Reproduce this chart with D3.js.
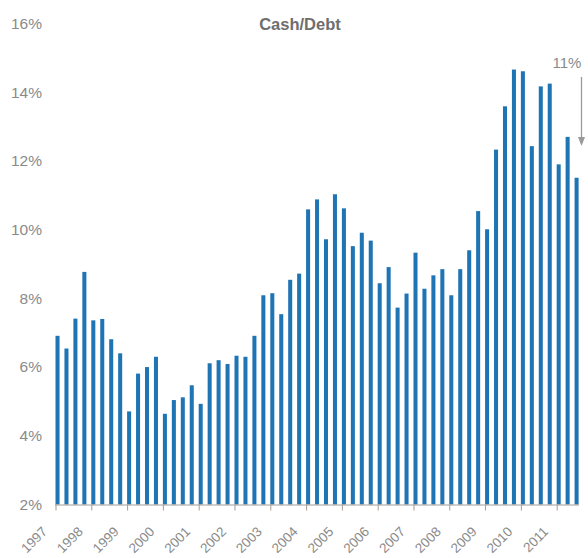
<!DOCTYPE html>
<html>
<head>
<meta charset="utf-8">
<script src="https://cdn.jsdelivr.net/npm/d3@7"></script>
<style>
  html, body { margin: 0; padding: 0; background: #fff; }
  svg { display: block; font-family: "Liberation Sans", Arial, sans-serif; }
</style>
</head>
<body>
<svg id="chart" width="588" height="558"></svg>
<script>
// Quarterly cash-to-debt ratio (%), 1997 Q1 through 2011 Q3
const years = [1997, 1998, 1999, 2000, 2001, 2002, 2003, 2004, 2005, 2006, 2007, 2008, 2009, 2010, 2011];
const cashDebt = [
  6.91, 6.54, 7.41, 8.77,
  7.36, 7.40, 6.81, 6.40,
  4.71, 5.81, 6.00, 6.30,
  4.64, 5.04, 5.12, 5.47,
  4.93, 6.11, 6.20, 6.09,
  6.33, 6.30, 6.91, 8.09,
  8.15, 7.54, 8.54, 8.72,
  10.59, 10.88, 9.72, 11.03,
  10.62, 9.52, 9.91, 9.68,
  8.44, 8.91, 7.73, 8.14,
  9.33, 8.28, 8.67, 8.85,
  8.09, 8.85, 9.40, 10.54,
  10.01, 12.33, 13.59, 14.66,
  14.61, 12.43, 14.17, 14.25,
  11.90, 12.70, 11.51
];
const yTicks = [2, 4, 6, 8, 10, 12, 14, 16];
const title = "Cash/Debt";
const noteLabel = "11%";

const quarters = cashDebt.map((v, i) => `${years[0] + Math.floor(i / 4)}Q${(i % 4) + 1}`);
const data = cashDebt.map((v, i) => ({ q: quarters[i], v }));

const svg = d3.select("#chart");

const x = d3.scaleBand()
  .domain(quarters)
  .range([55.5, 578.6])
  .paddingInner(0.55)
  .paddingOuter(0)
  .align(0);

const y = d3.scaleLinear().domain([2, 16]).range([504.5, 23.5]);

// Bars
svg.append("g")
  .selectAll("rect")
  .data(data)
  .join("rect")
  .attr("x", d => x(d.q))
  .attr("y", d => y(d.v))
  .attr("width", x.bandwidth())
  .attr("height", d => y(2) - y(d.v))
  .attr("fill", "#1f74b4");

// Y labels (no axis line)
svg.append("g")
  .selectAll("text")
  .data(yTicks)
  .join("text")
  .attr("x", 42)
  .attr("y", d => y(d))
  .attr("dy", "0.35em")
  .attr("text-anchor", "end")
  .attr("font-size", 15.5)
  .attr("fill", "#8a8a8a")
  .text(d => d + "%");

// X axis: ticks at the first quarter of each year
const yearQ = years.map(yr => `${yr}Q1`);
const xAxis = d3.axisBottom(x)
  .tickValues(yearQ)
  .tickSize(6)
  .tickFormat(q => q.slice(0, 4));

const gx = svg.append("g")
  .attr("transform", `translate(0,${y(2)})`)
  .call(xAxis);

gx.select(".domain")
  .attr("d", "M55,0.5H579")
  .attr("stroke", "#a89c94");
gx.selectAll(".tick")
  .attr("transform", d => `translate(${x(d) + 0.5},0)`);
gx.selectAll(".tick line").attr("stroke", "#a89c94");
gx.selectAll(".tick text")
  .attr("font-size", 13.5)
  .attr("font-family", "Liberation Sans, Arial, sans-serif")
  .attr("fill", "#8a8a8a")
  .attr("text-anchor", "end")
  .attr("x", -8)
  .attr("y", 28)
  .attr("dy", 0)
  .attr("transform", "rotate(-45,-8,28)");

// Title
svg.append("text")
  .attr("x", 300)
  .attr("y", 24)
  .attr("dy", "0.35em")
  .attr("text-anchor", "middle")
  .attr("font-size", 16.5)
  .attr("font-weight", "bold")
  .attr("fill", "#6e6e6e")
  .text(title);

// Downward arrow annotation at the right edge
const arrowX = 581.5;
svg.append("text")
  .attr("x", 567)
  .attr("y", 63)
  .attr("dy", "0.35em")
  .attr("text-anchor", "middle")
  .attr("font-size", 15)
  .attr("fill", "#8a8a8a")
  .text(noteLabel);

svg.append("line")
  .attr("x1", arrowX).attr("x2", arrowX)
  .attr("y1", 77).attr("y2", 140)
  .attr("stroke", "#9a9a9a")
  .attr("stroke-width", 1.3);

svg.append("path")
  .attr("d", `M${arrowX - 3.5},137 L${arrowX + 3.5},137 L${arrowX},146 Z`)
  .attr("fill", "#9a9a9a");
</script>
</body>
</html>
